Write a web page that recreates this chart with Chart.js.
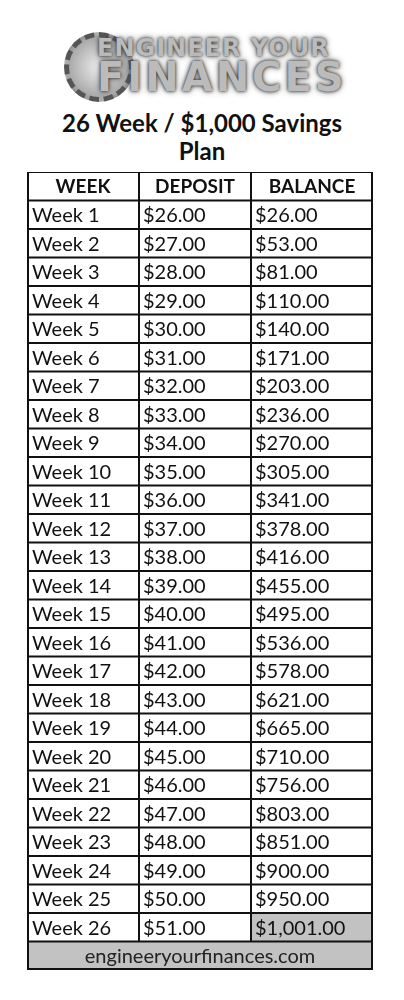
<!DOCTYPE html>
<html>
<head>
<meta charset="utf-8">
<script src="https://cdn.jsdelivr.net/npm/chart.js@4"></script>
<style>
  body { margin: 0; background: #fff; width: 404px; height: 1000px; position: relative; font-family: Lato, "Open Sans", sans-serif; overflow: hidden; }
  #logo { position: absolute; left: 0; top: 12px; width: 404px; height: 90px; }
  #gear { position: absolute; left: 64px; top: 20px; width: 60px; height: 60px; border-radius: 50%; border: 5px dashed #555; background: radial-gradient(circle, #eee 0%, #aaa 70%, #666 100%); }
  .l1, .l2 { position: absolute; font-family: "DejaVu Sans", sans-serif; font-weight: bold; color: #bbb; text-shadow: 0 0 3px #333, 0 0 6px #555; letter-spacing: 1px; }
  .l1 { left: 97px; top: 22px; font-size: 24px; }
  .l2 { left: 97px; top: 42px; font-size: 40px; letter-spacing: 3px; }
  #title { position: absolute; left: 0; top: 109px; width: 404px; text-align: center; font-weight: bold; font-size: 24px; line-height: 28px; color: #111; }
  #wrap { position: absolute; left: 27px; top: 172px; width: 346px; height: 798px; }
</style>
</head>
<body>
<div id="logo">
  <div id="gear"></div>
  <div class="l1">ENGINEER YOUR</div>
  <div class="l2">FINANCES</div>
</div>
<div id="title">26 Week / $1,000 Savings<br>Plan</div>
<div id="wrap"><canvas id="tabla"></canvas></div>
<script>
const headers = ["WEEK", "DEPOSIT", "BALANCE"];
const weeks = ["Week 1","Week 2","Week 3","Week 4","Week 5","Week 6","Week 7","Week 8","Week 9","Week 10","Week 11","Week 12","Week 13","Week 14","Week 15","Week 16","Week 17","Week 18","Week 19","Week 20","Week 21","Week 22","Week 23","Week 24","Week 25","Week 26"];
const deposits = ["$26.00","$27.00","$28.00","$29.00","$30.00","$31.00","$32.00","$33.00","$34.00","$35.00","$36.00","$37.00","$38.00","$39.00","$40.00","$41.00","$42.00","$43.00","$44.00","$45.00","$46.00","$47.00","$48.00","$49.00","$50.00","$51.00"];
const balances = ["$26.00","$53.00","$81.00","$110.00","$140.00","$171.00","$203.00","$236.00","$270.00","$305.00","$341.00","$378.00","$416.00","$455.00","$495.00","$536.00","$578.00","$621.00","$665.00","$710.00","$756.00","$803.00","$851.00","$900.00","$950.00","$1,001.00"];
const footer = "engineeryourfinances.com";

// bordes de columna en unidades del eje x
const colEdges = [0, 112, 224, 346];
const rows = ["header", ...weeks, "footer"];

const tablePlugin = {
  id: "tablePlugin",
  afterDatasetsDraw(chart) {
    const { ctx, scales: { x, y } } = chart;
    const half = (y.getPixelForValue(1) - y.getPixelForValue(0)) / 2;
    const left = x.getPixelForValue(0), right = x.getPixelForValue(346);
    ctx.save();
    ctx.strokeStyle = "#111";
    ctx.lineWidth = 2;
    // líneas horizontales
    rows.forEach((r, i) => {
      const yy = y.getPixelForValue(i) - half;
      ctx.beginPath(); ctx.moveTo(left, yy); ctx.lineTo(right, yy); ctx.stroke();
    });
    const bottom = y.getPixelForValue(rows.length - 1) + half;
    ctx.beginPath(); ctx.moveTo(left, bottom - 1); ctx.lineTo(right, bottom - 1); ctx.stroke();
    // líneas verticales
    const footTop = y.getPixelForValue(rows.length - 1) - half;
    colEdges.forEach((c, i) => {
      let xx = x.getPixelForValue(c);
      if (i === 0) xx += 1;
      if (i === colEdges.length - 1) xx -= 1;
      const yEnd = (i === 0 || i === colEdges.length - 1) ? bottom : footTop;
      ctx.beginPath(); ctx.moveTo(xx, y.getPixelForValue(0) - half); ctx.lineTo(xx, yEnd); ctx.stroke();
    });
    // textos
    ctx.fillStyle = "#111";
    ctx.textBaseline = "middle";
    ctx.font = "bold 19px Lato, 'Open Sans', sans-serif";
    ctx.textAlign = "center";
    headers.forEach((h, i) => {
      ctx.fillText(h, x.getPixelForValue((colEdges[i] + colEdges[i + 1]) / 2), y.getPixelForValue(0) + 1);
    });
    ctx.font = "20px Lato, 'Open Sans', sans-serif";
    ctx.textAlign = "left";
    weeks.forEach((w, i) => {
      const yy = y.getPixelForValue(i + 1) + 1;
      ctx.fillText(w, x.getPixelForValue(colEdges[0]) + 5, yy);
      ctx.fillText(deposits[i], x.getPixelForValue(colEdges[1]) + 4, yy);
      ctx.fillText(balances[i], x.getPixelForValue(colEdges[2]) + 4, yy);
    });
    ctx.textAlign = "center";
    ctx.fillStyle = "#222";
    ctx.fillText(footer, x.getPixelForValue(173), y.getPixelForValue(rows.length - 1) + 1);
    ctx.restore();
  }
};

new Chart(document.getElementById("tabla"), {
  type: "bar",
  data: {
    labels: rows,
    datasets: [{
      data: [
        { y: "Week 26", x: [colEdges[2], colEdges[3]] },
        { y: "footer", x: [colEdges[0], colEdges[3]] }
      ],
      backgroundColor: "#c2c2c2",
      barPercentage: 1,
      categoryPercentage: 1
    }]
  },
  options: {
    indexAxis: "y",
    responsive: true,
    maintainAspectRatio: false,
    animation: false,
    layout: { padding: 0 },
    plugins: { legend: { display: false }, tooltip: { enabled: false } },
    scales: {
      x: { type: "linear", min: 0, max: 346, display: false },
      y: { type: "category", offset: true, display: false }
    }
  },
  plugins: [tablePlugin]
});
</script>
</body>
</html>
